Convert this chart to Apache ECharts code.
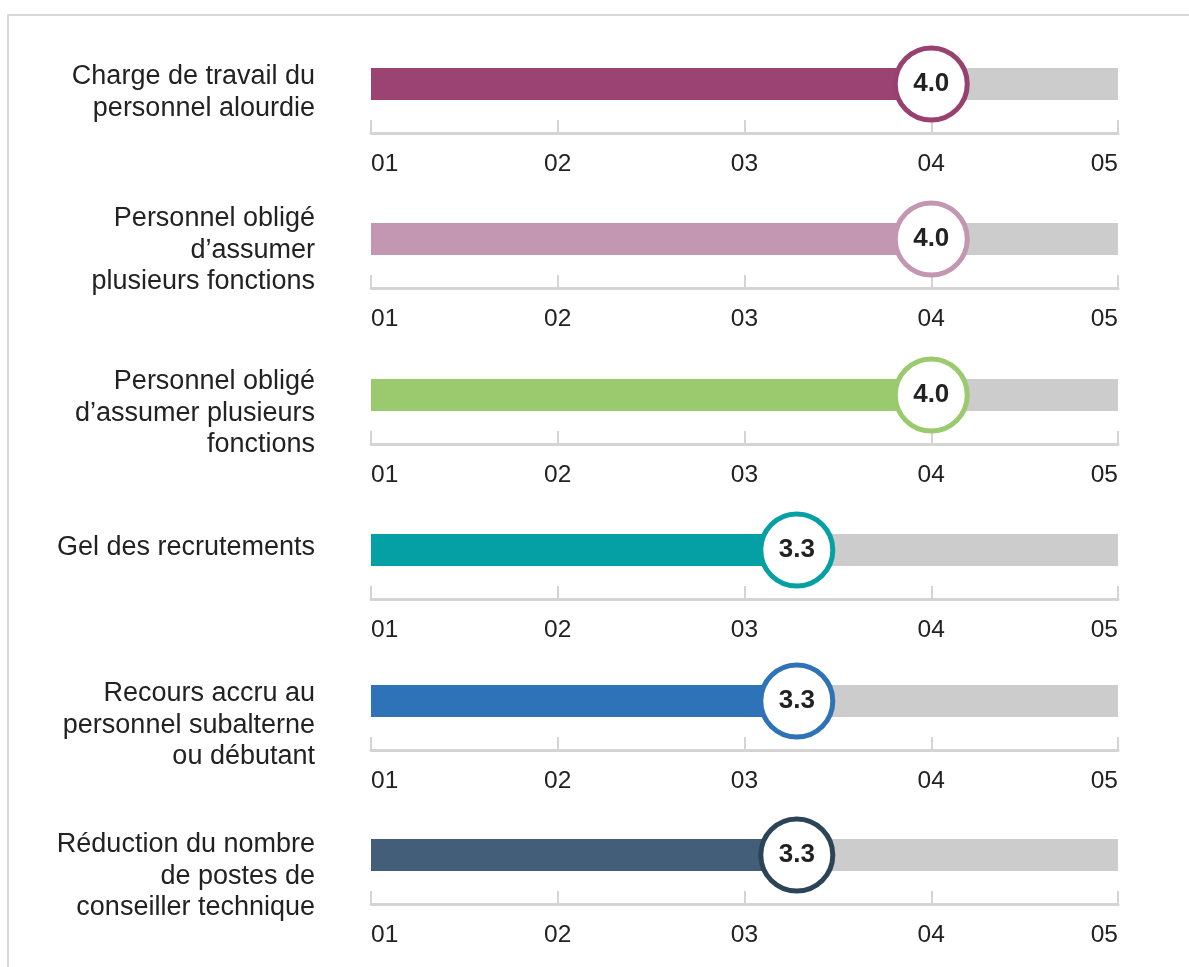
<!DOCTYPE html>
<html>
<head>
<meta charset="utf-8">
<script src="https://cdn.jsdelivr.net/npm/echarts@6/dist/echarts.min.js"></script>
<style>
  html, body { margin: 0; padding: 0; background: #fff; }
  #chart { width: 1189px; height: 967px; }
</style>
</head>
<body>
<div id="chart"></div>
<script>
// data
var categories = [
  'Charge de travail du\npersonnel alourdie',
  'Personnel obligé\nd\u2019assumer\nplusieurs fonctions',
  'Personnel obligé\nd\u2019assumer plusieurs\nfonctions',
  'Gel des recrutements',
  'Recours accru au\npersonnel subalterne\nou débutant',
  'Réduction du nombre\nde postes de\nconseiller technique'
]
var scores = [4.0, 4.0, 4.0, 3.28, 3.28, 3.28]
var tickLabels = ['01', '02', '03', '04', '05']
var scaleMin = 1
var scaleMax = 5

// style
var barColors = ['#9b4373', '#c397b1', '#9bca6e', '#05a0a3', '#2e72b8', '#425e78']
var ringColors = ['#984070', '#c397b1', '#9bca6e', '#05a0a3', '#2e72b8', '#2c4457']
var barCenters = [84, 239, 395, 550, 701, 855]
var labelTops = [61, 203, 366, 532, 678, 829]
var fontFamily = '"Liberation Sans", Arial, sans-serif'

var chart = echarts.init(document.getElementById('chart'))

var grids = [], xAxes = [], yAxes = [], series = [], texts = []

categories.forEach(function (name, i) {
  grids.push({ left: 371, right: 71, top: barCenters[i] - 49, height: 98 })

  xAxes.push({
    gridIndex: i,
    type: 'value',
    min: scaleMin,
    max: scaleMax,
    interval: 1,
    splitLine: { show: false },
    axisLine: { show: true, lineStyle: { color: '#d4d4d4', width: 3 } },
    axisTick: { show: true, inside: true, length: 13, lineStyle: { color: '#d4d4d4', width: 2 } },
    axisLabel: {
      formatter: function (v) { return tickLabels[v - scaleMin] },
      fontSize: 24.5,
      color: '#222',
      fontFamily: fontFamily,
      margin: 19,
      alignMinLabel: 'left',
      alignMaxLabel: 'right'
    }
  })

  yAxes.push({
    gridIndex: i,
    type: 'category',
    data: [name],
    axisLine: { show: false },
    axisTick: { show: false },
    axisLabel: { show: false }
  })

  // category label, placed like the reference (top of first line)
  texts.push({
    type: 'text',
    x: 315,
    y: labelTops[i],
    silent: true,
    style: {
      text: name,
      textAlign: 'right',
      textVerticalAlign: 'top',
      fontSize: 27,
      lineHeight: 31.5,
      fontFamily: fontFamily,
      fill: '#222'
    }
  })

  // grey track
  series.push({
    type: 'bar',
    xAxisIndex: i,
    yAxisIndex: i,
    data: [scaleMax],
    barWidth: 32,
    barGap: '-100%',
    silent: true,
    itemStyle: { color: '#cccccc' },
    z: 1
  })

  // score bar
  series.push({
    type: 'bar',
    xAxisIndex: i,
    yAxisIndex: i,
    data: [scores[i]],
    barWidth: 32,
    barGap: '-100%',
    itemStyle: { color: barColors[i] },
    z: 2
  })

  // score bubble
  series.push({
    type: 'scatter',
    xAxisIndex: i,
    yAxisIndex: i,
    data: [[scores[i], 0]],
    symbolSize: 72,
    itemStyle: { color: '#fff', borderColor: ringColors[i], borderWidth: 5, opacity: 1 },
    label: {
      show: true,
      position: 'inside',
      formatter: function (p) { return p.value[0].toFixed(1) },
      fontSize: 26,
      fontWeight: 'bold',
      color: '#222',
      fontFamily: fontFamily
    },
    z: 3
  })
})

texts.push({
  type: 'rect',
  shape: { x: 8, y: 15, width: 1400, height: 1200 },
  style: { fill: 'none', stroke: '#d9d9d9', lineWidth: 2 },
  silent: true
})

chart.setOption({
  animation: false,
  grid: grids,
  xAxis: xAxes,
  yAxis: yAxes,
  series: series,
  graphic: texts
})
</script>
</body>
</html>
